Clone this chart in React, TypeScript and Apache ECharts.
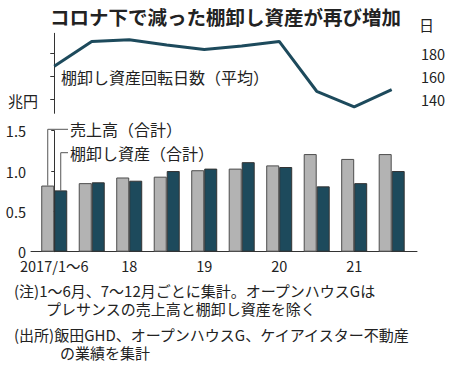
import React, { useEffect, useRef } from "react";
import * as echarts from "echarts";

// Half-year periods (1-6, 7-12)
const categories = [
  "2017/1〜6", "2017/7〜12", "2018/1〜6", "2018/7〜12", "2019/1〜6",
  "2019/7〜12", "2020/1〜6", "2020/7〜12", "2021/1〜6", "2021/7〜12",
];
const tickIndices = [0, 2, 4, 6, 8];
const tickLabels = ["2017/1〜6", "18", "19", "20", "21"];
const salesValues = [0.82, 0.85, 0.92, 0.93, 1.01, 1.03, 1.07, 1.21, 1.15, 1.21];
const inventoryValues = [0.76, 0.86, 0.88, 1.0, 1.03, 1.11, 1.05, 0.81, 0.85, 1.0];
const turnoverDays = [168.5, 190, 191.5, 187, 183, 186, 190, 147, 133.5, 148.5];
const dayTicks = [140, 160, 180];

const TITLE = "コロナ下で減った棚卸し資産が再び増加";
const SALES_NAME = "売上高（合計）";
const INV_NAME = "棚卸し資産（合計）";
const DAYS_NAME = "棚卸し資産回転日数（平均）";
const NOTES = [
  "(注)1〜6月、7〜12月ごとに集計。オープンハウスGは",
  "プレサンスの売上高と棚卸し資産を除く",
  "(出所)飯田GHD、オープンハウスG、ケイアイスター不動産",
  "の業績を集計",
];

const CJK = "'Noto Sans CJK JP', sans-serif";
const NARROW = "'Liberation Sans Narrow', 'Noto Sans CJK JP', sans-serif";
const DARK = "#1d4a5c";
const GRAY = "#b3b3b3";
const AXIS = "#333";
const TXT = "#222";

function txt(text: string, x: number, y: number, size: number, opts: any = {}) {
  return {
    type: "text",
    x,
    y,
    silent: true,
    style: {
      text,
      font: `${opts.bold ? "bold " : ""}${size}px ${CJK}`,
      fill: TXT,
      align: opts.align || "left",
      textAlign: opts.align || "left",
      verticalAlign: "middle",
      textVerticalAlign: "middle",
    },
  };
}

export default function App() {
  const ref = useRef<HTMLDivElement>(null);
  useEffect(() => {
    if (!ref.current) return;
    const chart = echarts.init(ref.current, null, { renderer: "svg" });
    const xMin = -0.62;
    const xMax = 9.675;
    const option: any = {
      animation: false,
      backgroundColor: "#fff",
      grid: [
        { left: 31, width: 386, top: 33.3, height: 80 },
        { left: 31, width: 386, top: 130.7, height: 121 },
      ],
      xAxis: [
        { type: "value", gridIndex: 0, min: xMin, max: xMax, show: false },
        {
          type: "value",
          gridIndex: 1,
          min: xMin,
          max: xMax,
          axisLine: { show: true, onZero: false, lineStyle: { color: AXIS, width: 1 } },
          axisTick: { show: false },
          splitLine: { show: false },
          axisLabel: {
            customValues: tickIndices,
            formatter: (v: number) => {
              const k = tickIndices.indexOf(Math.round(v));
              return k >= 0 ? tickLabels[k] : "";
            },
            margin: 7,
            color: TXT,
            fontSize: 14.5,
            fontFamily: NARROW,
          },
        },
      ],
      yAxis: [
        {
          type: "value",
          gridIndex: 0,
          position: "right",
          min: 128,
          max: 197,
          axisLine: { show: true, lineStyle: { color: AXIS, width: 1 } },
          axisTick: { show: true, inside: true, length: 4, customValues: dayTicks, lineStyle: { color: AXIS } },
          splitLine: { show: false },
          axisLabel: {
            customValues: dayTicks,
            margin: 4,
            color: TXT,
            fontSize: 14.5,
            fontFamily: NARROW,
          },
        },
        {
          type: "value",
          gridIndex: 1,
          min: 0,
          max: 1.5,
          interval: 0.5,
          axisLine: { show: true, lineStyle: { color: AXIS, width: 1 } },
          axisTick: { show: true, length: 3, lineStyle: { color: AXIS } },
          splitLine: { show: false },
          axisLabel: {
            formatter: (v: number) => (v === 0 ? "0" : v.toFixed(1)),
            margin: 5,
            color: TXT,
            fontSize: 14.5,
            fontFamily: NARROW,
          },
        },
      ],
      series: [
        {
          name: SALES_NAME,
          type: "bar",
          xAxisIndex: 1,
          yAxisIndex: 1,
          barWidth: 13,
          barGap: "0%",
          data: salesValues.map((v, i) => [i, v]),
          itemStyle: { color: GRAY, borderColor: "#4d4d4d", borderWidth: 1 },
        },
        {
          name: INV_NAME,
          type: "bar",
          xAxisIndex: 1,
          yAxisIndex: 1,
          barWidth: 13,
          barGap: "0%",
          data: inventoryValues.map((v, i) => [i, v]),
          itemStyle: { color: DARK, borderColor: "#333", borderWidth: 1 },
        },
        {
          name: DAYS_NAME,
          type: "line",
          xAxisIndex: 0,
          yAxisIndex: 0,
          symbol: "none",
          data: turnoverDays.map((v, i) => [i, v]),
          lineStyle: { color: DARK, width: 3 },
        },
      ],
    };
    chart.setOption(option);

    const salesTop = chart.convertToPixel({ xAxisIndex: 1, yAxisIndex: 1 } as any, [0, salesValues[0]]) as number[];
    const invTop = chart.convertToPixel({ xAxisIndex: 1, yAxisIndex: 1 } as any, [0, inventoryValues[0]]) as number[];
    const salesLabelY = 129.3;
    const invLabelY = 152.7;
    const labelX = 70;
    const lineStyle = { stroke: "#555", lineWidth: 1, fill: null };

    chart.setOption({
      graphic: [
        txt(TITLE, 225.5, 16, 19.5, { bold: true, align: "center" }),
        txt("日", 419, 24, 15),
        txt("兆円", 8, 100, 15),
        txt(DAYS_NAME, 61, 77, 16),
        txt(SALES_NAME, labelX, salesLabelY, 16),
        txt(INV_NAME, labelX, invLabelY, 16),
        {
          type: "polyline",
          silent: true,
          shape: { points: [[salesTop[0] - 6.5, salesTop[1]], [salesTop[0] - 6.5, salesLabelY], [labelX - 2, salesLabelY]] },
          style: lineStyle,
        },
        {
          type: "polyline",
          silent: true,
          shape: { points: [[invTop[0] + 6.5, invTop[1]], [invTop[0] + 6.5, invLabelY], [labelX - 2, invLabelY]] },
          style: lineStyle,
        },
        txt(NOTES[0], 14, 290, 15),
        txt(NOTES[1], 46, 308.5, 15),
        txt(NOTES[2], 14, 334.7, 15),
        txt(NOTES[3], 60, 352.5, 15),
      ],
    });

    return () => chart.dispose();
  }, []);
  return (
    <div
      ref={ref}
      style={{ position: "fixed", left: 0, top: 0, width: 450, height: 366, background: "#fff" }}
    />
  );
}
